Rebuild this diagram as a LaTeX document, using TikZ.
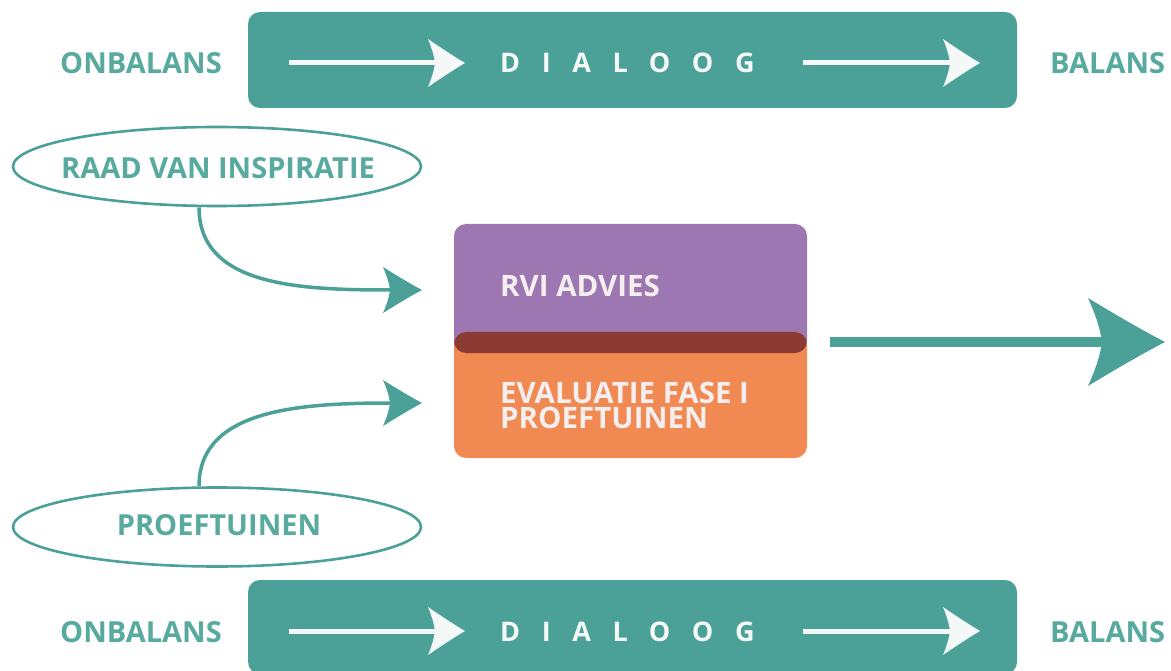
\documentclass[tikz,border=0pt]{standalone}
\usepackage{fontspec}
\setmainfont{Open Sans}
\usetikzlibrary{arrows.meta,shapes.geometric}
\pgfdeclarearrow{
  name=Curvy,
  defaults={length=37pt, width=44pt, inset=9pt},
  parameters={\the\pgfarrowlength,\the\pgfarrowwidth,\the\pgfarrowinset},
  setup code={
    \pgfarrowssettipend{0pt}
    \pgfarrowssetbackend{-\pgfarrowlength}
    \pgfmathsetlengthmacro\curvylineend{\pgfarrowinset-\pgfarrowlength+4pt}
    \pgfarrowssetlineend{\curvylineend}
    \pgfarrowssavethe\pgfarrowlength
    \pgfarrowssavethe\pgfarrowwidth
    \pgfarrowssavethe\pgfarrowinset
  },
  drawing code={
    \pgfpathmoveto{\pgfqpoint{0pt}{0pt}}
    \pgfpathcurveto{\pgfpoint{-0.33\pgfarrowlength}{0.15\pgfarrowwidth}}{\pgfpoint{-0.68\pgfarrowlength}{0.33\pgfarrowwidth}}{\pgfpoint{-\pgfarrowlength}{0.5\pgfarrowwidth}}
    \pgfpathcurveto{\pgfpoint{-\pgfarrowlength+0.4\pgfarrowinset}{0.36\pgfarrowwidth}}{\pgfpoint{-\pgfarrowlength+0.85\pgfarrowinset}{0.18\pgfarrowwidth}}{\pgfpoint{-\pgfarrowlength+\pgfarrowinset}{0pt}}
    \pgfpathcurveto{\pgfpoint{-\pgfarrowlength+0.85\pgfarrowinset}{-0.18\pgfarrowwidth}}{\pgfpoint{-\pgfarrowlength+0.4\pgfarrowinset}{-0.36\pgfarrowwidth}}{\pgfpoint{-\pgfarrowlength}{-0.5\pgfarrowwidth}}
    \pgfpathcurveto{\pgfpoint{-0.68\pgfarrowlength}{-0.33\pgfarrowwidth}}{\pgfpoint{-0.33\pgfarrowlength}{-0.15\pgfarrowwidth}}{\pgfqpoint{0pt}{0pt}}
    \pgfpathclose
    \pgfusepathqfill
  }
}
\definecolor{teal}{RGB}{75,161,151}
\definecolor{tealtext}{RGB}{88,170,158}
\definecolor{rvipurple}{RGB}{156,119,177}
\definecolor{evorange}{RGB}{240,137,82}
\definecolor{overlapred}{RGB}{139,58,52}
\definecolor{boxtext}{RGB}{245,238,238}
\definecolor{arrowwhite}{RGB}{244,249,248}
\tikzset{
  band/.style={fill=teal, rounded corners=12pt},
  sidelabel/.style={font=\fontsize{29}{29}\selectfont\bfseries, text=tealtext, inner sep=0pt, anchor=base west},
  dialoog/.style={font=\fontsize{27}{27}\selectfont\bfseries\addfontfeature{LetterSpace=80}, text=arrowwhite, inner sep=0pt, anchor=base west},
  whitearrow/.style={draw=arrowwhite, line width=5pt, -{Curvy[length=37pt,width=48pt,inset=7pt]}},
  source/.style={ellipse, draw=teal, line width=2.6pt, minimum width=408pt, minimum height=79pt, inner sep=0pt},
  sourcelabel/.style={font=\fontsize{29}{29}\selectfont\bfseries, text=tealtext, inner sep=0pt},
  feed/.style={draw=teal, line width=3.5pt, -{Curvy[length=39pt,width=46pt,inset=7pt]}},
  boxlabel/.style={font=\fontsize{29.5}{23}\selectfont\bfseries, text=boxtext, inner sep=0pt, anchor=base west},
  bigarrow/.style={draw=teal, line width=9pt, -{Curvy[length=77pt,width=88pt,inset=14pt]}}
}
\begin{document}
\begin{tikzpicture}[x=1pt,y=-1pt]
\useasboundingbox (0,0) rectangle (1171,671);
\clip (0,0) rectangle (1171,671);
% top band
\fill[band] (248,12) rectangle (1017,108);
\node[sidelabel] (onb1) at (60,74) {ONBALANS};
\node[sidelabel] (bal1) at (1050,74) {BALANS};
\node[dialoog] (dia1) at (500,73) {DIALOOG};
\coordinate (t1a) at (289,63);
\coordinate (t1b) at (465,63);
\coordinate (t1c) at (803,63);
\coordinate (t1d) at (980,63);
\draw[whitearrow] (t1a) -- (t1b);
\draw[whitearrow] (t1c) -- (t1d);
% bottom band
\fill[band] (248,580) rectangle (1017,674);
\node[sidelabel] (onb2) at (60,642) {ONBALANS};
\node[sidelabel] (bal2) at (1050,642) {BALANS};
\node[dialoog] (dia2) at (500,641) {DIALOOG};
\coordinate (t2a) at (289,631);
\coordinate (t2b) at (465,631);
\coordinate (t2c) at (803,631);
\coordinate (t2d) at (980,631);
\draw[whitearrow] (t2a) -- (t2b);
\draw[whitearrow] (t2c) -- (t2d);
% sources
\node[source] (raad) at (217,166.5) {};
\node[sourcelabel] (raadtext) at (218,168) {RAAD VAN INSPIRATIE};
\node[source] (proef) at (217,527) {};
\node[sourcelabel] (proeftext) at (219,525) {PROEFTUINEN};
% boxes
\fill[rvipurple, rounded corners=12pt] (454,224) rectangle (807,353);
\fill[evorange, rounded corners=12pt] (454,332) rectangle (807,458);
\begin{scope}
  \clip[rounded corners=12pt] (454,224) rectangle (807,353);
  \fill[overlapred, rounded corners=12pt] (454,332) rectangle (807,458);
\end{scope}
\path (454,224) rectangle (807,458) node[pos=0.5, inner sep=0pt, minimum width=353pt, minimum height=234pt] (box) {};
\node[boxlabel] (rvi) at (500,297) {RVI ADVIES};
\node[boxlabel] (eval) at (500,403) {EVALUATIE FASE I};
\node[boxlabel] (eval2) at (500,428) {PROEFTUINEN};
% feeds
\coordinate (in1) at (422,290);
\coordinate (in2) at (422,403);
\draw[feed] ([xshift=-18pt]raad.south) .. controls +(0,80) and +(-120,0) .. (in1);
\draw[feed] ([xshift=-18pt]proef.north) .. controls +(0,-78) and +(-120,0) .. (in2);
% output
\coordinate (out) at (1165,342);
\draw[bigarrow, shorten <=23pt] (box.east |- out) -- (out);
\end{tikzpicture}
\end{document}
